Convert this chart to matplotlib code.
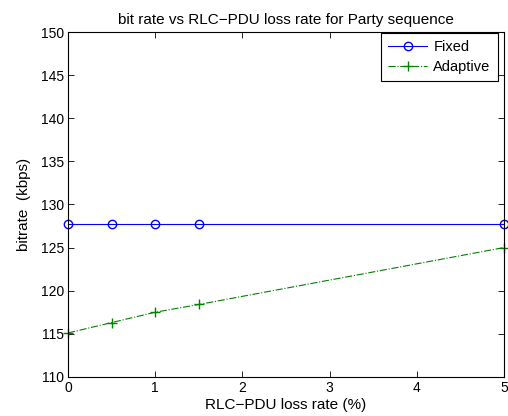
import matplotlib
matplotlib.use('Agg')
import matplotlib.pyplot as plt

plt.rcParams['font.family'] = ['Liberation Sans', 'DejaVu Sans']
plt.rcParams['font.size'] = 10

loss = [0, 0.5, 1, 1.5, 5]
fixed = [127.7, 127.7, 127.7, 127.7, 127.7]
adaptive = [115.1, 116.3, 117.5, 118.4, 125.0]

fig = plt.figure(figsize=(5.08, 4.16), dpi=100)
ax = fig.add_axes([0.134, 0.094, 0.858, 0.829])

ax.plot(loss, fixed, color='#0000ff', marker='o', markersize=6, markerfacecolor='none',
        linewidth=0.8, label='Fixed', clip_on=False)
ax.plot(loss, adaptive, color='#008000', marker='+', markersize=7, linestyle='-.',
        linewidth=0.8, label='Adaptive', clip_on=False)

ax.set_xlim(0, 5)
ax.set_ylim(110, 150)
ax.set_xticks([0, 1, 2, 3, 4, 5])
ax.set_yticks(range(110, 151, 5))
ax.tick_params(direction='in', top=True, right=True, length=4, width=0.6,
               labelsize=10, pad=3)
for s in ax.spines.values():
    s.set_linewidth(0.8)

ax.set_title('bit rate vs RLC\u2212PDU loss rate for Party sequence', fontsize=11, pad=6)
ax.set_xlabel('RLC\u2212PDU loss rate (%)', fontsize=11, labelpad=2)
ax.set_ylabel('bitrate  (kbps)', fontsize=11, labelpad=7)

# legend box roughly where MATLAB put it, tucked in the top right corner
leg = ax.legend(loc='upper right', bbox_to_anchor=(0.986, 0.998), fancybox=False,
                framealpha=1, edgecolor='black', borderaxespad=0, borderpad=0.5,
                handlelength=2.7, handletextpad=0.4, labelspacing=0.42, fontsize=10.5)
leg.get_frame().set_linewidth(0.8)

fig.savefig('out.png', dpi=100)
